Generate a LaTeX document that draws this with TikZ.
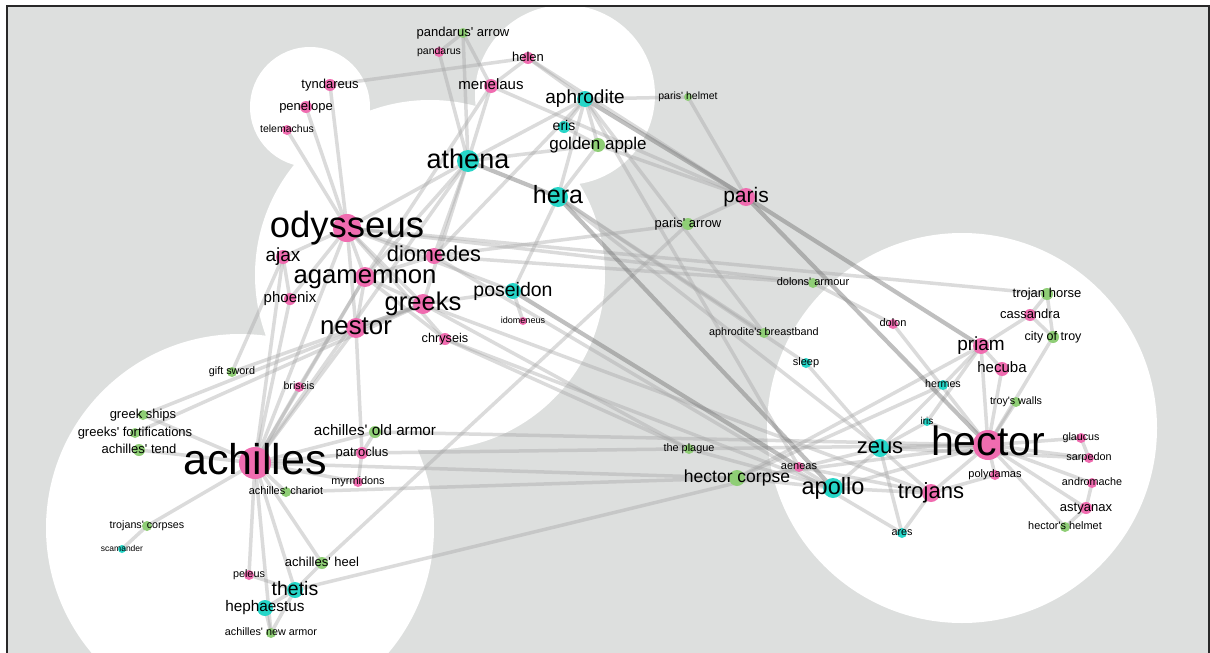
\documentclass[tikz,border=0pt]{standalone}
\usepackage{fontspec}
\setmainfont{Liberation Sans}[Ligatures=TeXOff]
\definecolor{bgc}{RGB}{221,223,222}
\definecolor{pk}{RGB}{240,108,176}
\definecolor{cy}{RGB}{38,214,200}
\definecolor{gr}{RGB}{143,206,118}
\definecolor{edgec}{RGB}{165,165,165}
\definecolor{framec}{RGB}{40,40,40}
\pgfdeclarelayer{bgl}
\pgfdeclarelayer{edl}
\pgfsetlayers{bgl,edl,main}
\tikzset{
  edge/.style={draw=edgec, line width=3.5pt, opacity=0.4},
  heavy/.style={draw=edgec!70!black, line width=4.2pt, opacity=0.45},
  dotn/.style={circle, inner sep=0pt, draw=none},
  lab/.style={inner sep=0pt, anchor=base, text=black},
}
\newcommand\N[7]{%
  \node[dotn, fill=#5, minimum size=#4*2pt] (#1) at (#2,#3) {};
  \node[lab, font=\fontsize{#6}{#6}\selectfont, yshift=-0.26*#6pt] at (#1.center) {#7};}
\begin{document}
\begin{tikzpicture}[x=1pt,y=-1pt]
\useasboundingbox (0,0) rectangle (1210,653);
\begin{pgfonlayer}{bgl}
  \fill[white] (0,0) rectangle (1210,653);
  \fill[bgc] (7,6) rectangle (1209,653);
  \begin{scope}
    \clip (7,6) rectangle (1209,653);
    \fill[white] (310,107) circle (60pt) (565,95) circle (90pt) (430,275) circle (175pt)
      (240,528) circle (194pt) (962,428) circle (195pt);
  \end{scope}
\end{pgfonlayer}
% nodes
\N{pandarusarrow}{463}{33}{5}{gr}{13}{pandarus' arrow}
\N{pandarus}{439}{52}{5}{pk}{10.5}{pandarus}
\N{helen}{528}{58}{6}{pk}{13}{helen}
\N{tyndareus}{330}{85}{6}{pk}{13}{tyndareus}
\N{penelope}{306}{107}{6}{pk}{13}{penelope}
\N{telemachus}{287}{130}{5}{pk}{10.5}{telemachus}
\N{menelaus}{491}{86}{7}{pk}{15}{menelaus}
\N{aphrodite}{585}{99}{8}{cy}{19}{aphrodite}
\N{eris}{564}{127}{6}{cy}{14}{eris}
\N{goldenapple}{598}{145}{7}{gr}{17}{golden apple}
\N{athena}{468}{161}{11}{cy}{27}{athena}
\N{hera}{558}{197}{10}{cy}{25}{hera}
\N{parishelmet}{688}{97}{4}{gr}{10.5}{paris' helmet}
\N{paris}{746}{197}{9}{pk}{21}{paris}
\N{parisarrow}{688}{224}{6}{gr}{13}{paris' arrow}
\N{dolonsarmour}{813}{283}{5}{gr}{11}{dolons' armour}
\N{trojanhorse}{1047}{294}{6}{gr}{13}{trojan horse}
\N{cassandra}{1030}{315}{6}{pk}{13}{cassandra}
\N{cityoftroy}{1053}{337}{6}{gr}{12.5}{city of troy}
\N{dolon}{893}{324}{5}{pk}{11}{dolon}
\N{breastband}{764}{333}{5}{gr}{10.8}{aphrodite's breastband}
\N{priam}{981}{346}{8}{pk}{19}{priam}
\N{sleep}{806}{363}{5}{cy}{11}{sleep}
\N{hecuba}{1002}{369}{7}{pk}{15}{hecuba}
\N{hermes}{943}{385}{5}{cy}{10.7}{hermes}
\N{troyswalls}{1016}{402}{5}{gr}{10.7}{troy's walls}
\N{iris}{927}{422}{4}{cy}{10}{iris}
\N{hector}{988}{445}{15}{pk}{41}{hector}
\N{glaucus}{1081}{438}{5}{pk}{10.7}{glaucus}
\N{sarpedon}{1089}{458}{5}{pk}{10.8}{sarpedon}
\N{zeus}{880}{448}{9}{cy}{22}{zeus}
\N{theplague}{689}{449}{5}{gr}{10.9}{the plague}
\N{aeneas}{799}{467}{5}{pk}{11}{aeneas}
\N{hectorcorpse}{737}{478}{8}{gr}{17.5}{hector corpse}
\N{polydamas}{995}{475}{5}{pk}{11}{polydamas}
\N{andromache}{1092}{483}{5}{pk}{10.8}{andromache}
\N{apollo}{833}{488}{10}{cy}{23.5}{apollo}
\N{trojans}{931}{493}{9}{pk}{22}{trojans}
\N{astyanax}{1086}{508}{6}{pk}{13}{astyanax}
\N{hectorshelmet}{1065}{527}{5}{gr}{10.9}{hector's helmet}
\N{ares}{902}{533}{5}{cy}{10.8}{ares}
\N{odysseus}{347}{228}{14}{pk}{36.5}{odysseus}
\N{ajax}{283}{257}{7}{pk}{19}{ajax}
\N{diomedes}{434}{256}{8}{pk}{21.7}{diomedes}
\N{agamemnon}{365}{277}{10}{pk}{25.7}{agamemnon}
\N{poseidon}{513}{291}{8}{cy}{19.5}{poseidon}
\N{phoenix}{290}{299}{6}{pk}{15}{phoenix}
\N{greeks}{423}{304}{10}{pk}{25.6}{greeks}
\N{nestor}{356}{328}{10}{pk}{25.8}{nestor}
\N{idomeneus}{523}{321}{4}{pk}{9}{idomeneus}
\N{chryseis}{445}{339}{6}{pk}{12.7}{chryseis}
\N{giftsword}{232}{372}{5}{gr}{10.8}{gift sword}
\N{briseis}{299}{387}{5}{pk}{10.7}{briseis}
\N{greekships}{143}{415}{5}{gr}{13}{greek ships}
\N{fortifications}{135}{433}{5}{gr}{13}{greeks' fortifications}
\N{oldarmor}{375}{432}{6}{gr}{15.2}{achilles' old armor}
\N{tend}{139}{450}{6}{gr}{13}{achilles' tend}
\N{achilles}{255}{463}{16}{pk}{43}{achilles}
\N{patroclus}{362}{453}{6}{pk}{13}{patroclus}
\N{myrmidons}{358}{482}{5}{pk}{10.9}{myrmidons}
\N{chariot}{286}{492}{5}{gr}{10.9}{achilles' chariot}
\N{trojanscorpses}{147}{526}{5}{gr}{10.7}{trojans' corpses}
\N{scamander}{122}{549}{4}{cy}{8.5}{scamander}
\N{heel}{322}{563}{6}{gr}{13}{achilles' heel}
\N{peleus}{249}{575}{5}{pk}{10.8}{peleus}
\N{thetis}{295}{590}{8}{cy}{19.5}{thetis}
\N{hephaestus}{265}{608}{8}{cy}{15.3}{hephaestus}
\N{newarmor}{271}{633}{5}{gr}{10.8}{achilles' new armor}
% edges
\begin{pgfonlayer}{edl}
\foreach \a/\b in {
 odysseus/ajax, odysseus/agamemnon, odysseus/diomedes, odysseus/nestor, odysseus/greeks,
 odysseus/phoenix, odysseus/achilles, odysseus/athena, odysseus/penelope, odysseus/telemachus,
 odysseus/tyndareus, odysseus/trojanhorse, odysseus/dolonsarmour, odysseus/poseidon,
 odysseus/chryseis,
 agamemnon/achilles, agamemnon/nestor, agamemnon/menelaus, agamemnon/chryseis, agamemnon/briseis,
 agamemnon/greeks, agamemnon/diomedes, agamemnon/athena,
 diomedes/athena, diomedes/aphrodite, diomedes/dolonsarmour, diomedes/parisarrow, diomedes/ares,
 ajax/achilles, ajax/giftsword, ajax/phoenix,
 phoenix/achilles, nestor/achilles, nestor/greeks, nestor/patroclus,
 greeks/trojans, greeks/fortifications, greeks/greekships, greeks/poseidon,
 greeks/theplague, greeks/athena, giftsword/greeks,
 achilles/briseis, achilles/patroclus, achilles/myrmidons, achilles/chariot, achilles/tend,
 achilles/oldarmor, achilles/newarmor, achilles/thetis, achilles/peleus, achilles/greekships,
 achilles/trojanscorpses, achilles/heel, achilles/hectorcorpse, achilles/athena,
 trojanscorpses/scamander,
 thetis/hephaestus, thetis/peleus, thetis/heel, thetis/zeus, thetis/newarmor, hephaestus/newarmor,
 patroclus/hector, patroclus/oldarmor, myrmidons/patroclus,
 oldarmor/hector, chariot/hectorcorpse,
 athena/aphrodite, athena/goldenapple, athena/pandarus, athena/menelaus, athena/pandarusarrow,
 hera/aphrodite, hera/goldenapple, hera/zeus, hera/poseidon, hera/breastband, hera/sleep,
 aphrodite/eris, aphrodite/goldenapple, aphrodite/helen, aphrodite/parishelmet,
 aphrodite/breastband, aphrodite/aeneas,
 eris/goldenapple, goldenapple/paris,
 helen/paris, helen/menelaus, helen/tyndareus,
 menelaus/paris, menelaus/pandarusarrow, pandarus/pandarusarrow,
 paris/parisarrow, paris/parishelmet, parisarrow/heel,
 poseidon/idomeneus,
 zeus/sleep, zeus/hector, zeus/apollo, zeus/iris, zeus/hermes, zeus/trojans, zeus/sarpedon,
 apollo/hector, apollo/theplague, apollo/chryseis, apollo/hectorcorpse, apollo/aeneas, apollo/trojans,
 hermes/priam, hermes/hectorcorpse, iris/hector, iris/priam,
 priam/hector, priam/hecuba, priam/cassandra, priam/hectorcorpse,
 hecuba/hector, cassandra/trojanhorse, cassandra/cityoftroy, trojanhorse/cityoftroy,
 troyswalls/hector, cityoftroy/hector,
 hector/glaucus, hector/sarpedon, hector/andromache, hector/astyanax, hector/hectorshelmet,
 hector/polydamas, hector/trojans, hector/dolon, hector/hectorcorpse,
 andromache/astyanax, astyanax/hectorshelmet, sarpedon/glaucus,
 dolon/dolonsarmour, ares/trojans, ares/zeus, trojans/polydamas, trojans/aeneas,
 theplague/chryseis}
 \draw[edge] (\a.center) -- (\b.center);
\foreach \a/\b in {paris/hector, paris/priam, aphrodite/paris, athena/hera, poseidon/aeneas, hera/apollo}
 \draw[heavy] (\a.center) -- (\b.center);
\end{pgfonlayer}
\draw[line width=1.5pt, framec] (7,653) -- (7,6) -- (1209,6) -- (1209,653);
\end{tikzpicture}
\end{document}
